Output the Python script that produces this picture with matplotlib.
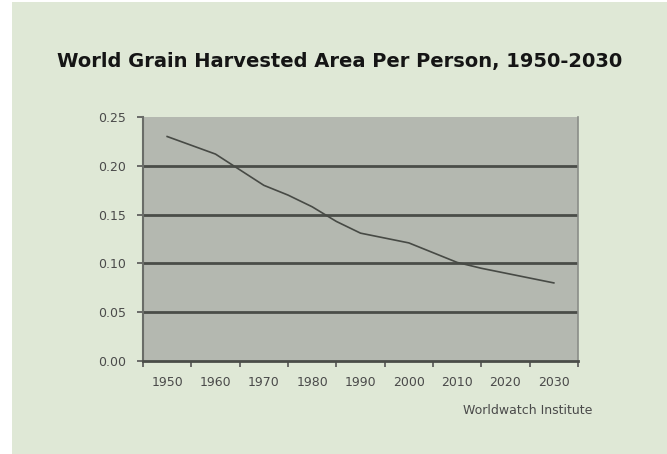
import matplotlib
matplotlib.use("Agg")
import matplotlib.pyplot as plt
import numpy as np

# Data
years = [1950, 1955, 1960, 1965, 1970, 1975, 1980, 1985, 1990, 1995,
         2000, 2005, 2010, 2015, 2020, 2025, 2030]
area_per_person = [0.230, 0.221, 0.212, 0.196, 0.180, 0.170, 0.158, 0.143,
                   0.131, 0.126, 0.121, 0.111, 0.101, 0.095, 0.090, 0.085, 0.080]
decade_labels = ["1950", "1960", "1970", "1980", "1990", "2000", "2010", "2020", "2030"]
y_ticks = [0.00, 0.05, 0.10, 0.15, 0.20, 0.25]

title = "World Grain Harvested Area Per Person, 1950-2030"
source = "Worldwatch Institute"

plt.rcParams['font.family'] = ['DejaVu Sans']

fig = plt.figure(figsize=(6.67, 4.54), dpi=100)
fig.patch.set_facecolor('white')
# green panel
bg = fig.add_axes([12/667, 0, 1 - 12/667, 1 - 2/454])
bg.set_facecolor('#dfe8d6')
bg.set_xticks([]); bg.set_yticks([])
for s in bg.spines.values():
    s.set_visible(False)
bg.set_zorder(-1)

ax = fig.add_axes([143/667, 1 - 361/454, 435/667, 244/454])
ax.set_facecolor('#b4b8b0')

decades = [int(d) for d in decade_labels]
ax.set_xlim(decades[0] - 5, decades[-1] + 5)
ax.set_ylim(y_ticks[0], y_ticks[-1])

for yv in y_ticks[1:-1]:
    ax.axhline(yv, color='#4a4d48', lw=2.0, zorder=1)

ax.plot(years, area_per_person, color='#474a45', lw=1.2, zorder=3)

# x axis: boundary ticks + centred labels
ax.set_xticks([d - 5 for d in decades] + [decades[-1] + 5])
ax.set_xticklabels([])
ax.set_xticks(decades, minor=True)
ax.set_xticklabels(decade_labels, minor=True)
ax.tick_params(axis='x', which='major', length=4, width=1.2, color='#555555', direction='out')
ax.tick_params(axis='x', which='minor', length=0, pad=11, labelsize=9, labelcolor='#4a4a4a')

ax.set_yticks(y_ticks)
ax.set_yticklabels([f"{v:.2f}" for v in y_ticks])
ax.tick_params(axis='y', length=4, width=1.2, color='#555555', direction='out',
               pad=8, labelsize=9, labelcolor='#4a4a4a')

ax.spines['top'].set_visible(False)
ax.spines['left'].set_color('#6a6d68')
ax.spines['left'].set_linewidth(1.5)
ax.spines['right'].set_color('#8a8d88')
ax.spines['right'].set_linewidth(1.2)
ax.spines['bottom'].set_color('#4a4d48')
ax.spines['bottom'].set_linewidth(2.0)

fig.text(340/667, 1 - 61/454, title, ha='center', va='center',
         fontsize=14, fontweight='bold', color='#151515')
fig.text(592/667, 1 - 410/454, source, ha='right', va='center',
         fontsize=9, color='#4a4a4a')

fig.savefig('out.png', dpi=100, facecolor=fig.get_facecolor())
